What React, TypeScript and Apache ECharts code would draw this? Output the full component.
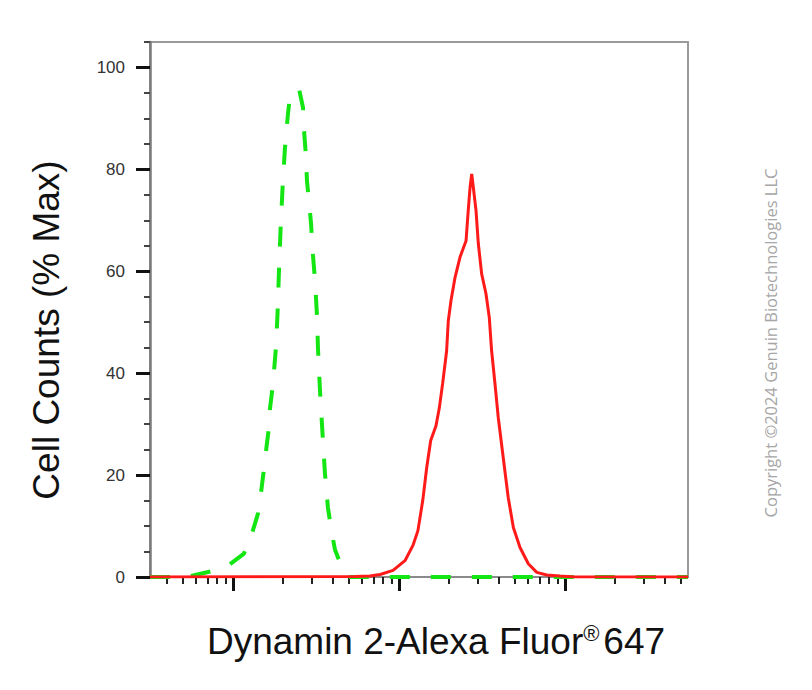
import React, { useEffect, useRef } from "react";
import * as echarts from "echarts";

// x values are log10 of fluorescence intensity; y values are % of max
const isotypePoints: [number, number][] = [
  [1.5, 0], [1.711, 0], [1.759, 0.3], [1.867, 1.1], [1.982, 2.5], [2.066, 4.6],
  [2.114, 8.5], [2.151, 12.5], [2.169, 16.6], [2.184, 20.5], [2.199, 24.8],
  [2.214, 28.7], [2.223, 33.1], [2.238, 37.1], [2.249, 41.2], [2.259, 45.1],
  [2.268, 51.5], [2.277, 60.1], [2.286, 67.8], [2.298, 76.0], [2.313, 84.2],
  [2.33, 90.5], [2.343, 94.4], [2.37, 94.4], [2.399, 95.6], [2.422, 92.1],
  [2.428, 87.6], [2.437, 83.7], [2.446, 77.6], [2.458, 73.7], [2.47, 69.4],
  [2.482, 63.1], [2.494, 58.2], [2.506, 51.3], [2.512, 44.8], [2.524, 36.6],
  [2.539, 28.3], [2.554, 20.3], [2.572, 13.6], [2.59, 9.7], [2.614, 5.4],
  [2.651, 2.3], [2.693, 0], [4.741, 0],
];

const dynaminPoints: [number, number][] = [
  [1.5, 0], [2.735, 0.1], [2.825, 0.2], [2.886, 0.5], [2.964, 1.3], [3.036, 3.2],
  [3.084, 6.2], [3.114, 9.1], [3.143, 15.0], [3.167, 21.5], [3.191, 26.8],
  [3.223, 29.7], [3.243, 33.2], [3.263, 38.0], [3.287, 44.4], [3.297, 50.3],
  [3.313, 54.2], [3.337, 58.7], [3.367, 62.7], [3.38, 63.9], [3.404, 66.0],
  [3.417, 71.9], [3.428, 76.4], [3.438, 79.1], [3.448, 76.4], [3.464, 71.9],
  [3.478, 65.4], [3.498, 59.5], [3.524, 55.6], [3.544, 50.9], [3.558, 44.4],
  [3.578, 38.0], [3.598, 31.3], [3.628, 23.4], [3.658, 15.6], [3.689, 9.7],
  [3.729, 5.8], [3.779, 2.6], [3.83, 0.9], [3.89, 0.4], [3.97, 0.2], [4.06, 0],
  [4.741, 0],
];

const yMajorTicks = [0, 20, 40, 60, 80, 100];
const yMinorTicks = [5, 10, 15, 25, 30, 35, 45, 50, 55, 65, 70, 75, 85, 90, 95, 105];
const xMajorDecades = [2, 3, 4];
const xMinorMultipliers = [2, 3, 4, 5, 6, 7, 8, 9];

const yAxisTitle = "Cell Counts (% Max)";
const xAxisTitleMain = "Dynamin 2-Alexa Fluor";
const xAxisTitleTail = "647";
const copyrightText = "Copyright ©2024 Genuin Biotechnologies LLC";

const X_MIN = 1.5;
const X_MAX = 4.741;

export default function App() {
  const ref = useRef<HTMLDivElement>(null);

  useEffect(() => {
    if (!ref.current) return;
    const chart = echarts.init(ref.current, undefined, { renderer: "svg" });

    const minorX: number[] = [];
    [1, 2, 3, 4].forEach((d) => {
      xMinorMultipliers.forEach((k) => {
        const v = d + Math.log10(k);
        if (v > X_MIN && v < X_MAX) minorX.push(v);
      });
    });

    const font = "'Liberation Sans', Arial, Helvetica, sans-serif";

    chart.setOption({
      animation: false,
      backgroundColor: "#ffffff",
      grid: {
        left: 150,
        top: 42,
        width: 538,
        height: 535,
        show: true,
        borderColor: "#9a9a9a",
        borderWidth: 2,
        backgroundColor: "transparent",
      },
      xAxis: [
        {
          type: "value",
          min: X_MIN,
          max: X_MAX,
          position: "bottom",
          axisLine: { show: true, lineStyle: { color: "#8a8a8a", width: 2 } },
          axisTick: {
            show: true,
            customValues: xMajorDecades,
            length: 14,
            lineStyle: { color: "#111", width: 3 },
          },
          axisLabel: { show: false },
          splitLine: { show: false },
        },
        {
          type: "value",
          min: X_MIN,
          max: X_MAX,
          position: "bottom",
          axisLine: { show: false },
          axisTick: {
            show: true,
            customValues: minorX,
            length: 7,
            lineStyle: { color: "#222", width: 2 },
          },
          axisLabel: { show: false },
          splitLine: { show: false },
        },
      ],
      yAxis: [
        {
          type: "value",
          min: 0,
          max: 105,
          position: "left",
          axisLine: { show: true, lineStyle: { color: "#7a7a7a", width: 2.5 } },
          axisTick: {
            show: true,
            customValues: yMajorTicks,
            length: 14,
            lineStyle: { color: "#111", width: 3 },
          },
          axisLabel: {
            show: true,
            customValues: yMajorTicks,
            margin: 25,
            color: "#333",
            fontSize: 17,
            fontFamily: font,
          },
          splitLine: { show: false },
        },
        {
          type: "value",
          min: 0,
          max: 105,
          position: "left",
          axisLine: { show: false },
          axisTick: {
            show: true,
            customValues: yMinorTicks,
            length: 6,
            lineStyle: { color: "#444", width: 2 },
          },
          axisLabel: { show: false },
          splitLine: { show: false },
        },
      ],
      series: [
        {
          type: "line",
          name: "Isotype",
          xAxisIndex: 0,
          yAxisIndex: 0,
          data: isotypePoints,
          showSymbol: false,
          symbol: "none",
          lineStyle: { color: "#14e614", width: 4, type: [20, 21], cap: "butt" },
          z: 3,
        },
        {
          type: "line",
          name: "Dynamin 2",
          xAxisIndex: 0,
          yAxisIndex: 0,
          data: dynaminPoints,
          showSymbol: false,
          symbol: "none",
          lineStyle: { color: "#ff1a1a", width: 3 },
          z: 4,
        },
      ],
      graphic: [
        {
          type: "text",
          x: 46,
          y: 330,
          rotation: Math.PI / 2,
          style: {
            text: yAxisTitle,
            font: `37px ${font}`,
            fill: "#111",
            textAlign: "center",
            textVerticalAlign: "middle",
          },
        },
        {
          type: "text",
          x: 436,
          y: 641,
          style: {
            text: `{a|${xAxisTitleMain}}{r|®}{s| }{a|${xAxisTitleTail}}`,
            textAlign: "center",
            textVerticalAlign: "middle",
            rich: {
              a: { fontSize: 37, fontFamily: font, fill: "#111", color: "#111" },
              s: { fontSize: 14, fontFamily: font },
              r: {
                fontSize: 22,
                fontFamily: font,
                fill: "#111",
                color: "#111",
                verticalAlign: "top",
              },
            },
          },
        },
        {
          type: "text",
          x: 770,
          y: 343,
          rotation: Math.PI / 2,
          style: {
            text: copyrightText,
            font: `16.5px 'Open Sans', 'Noto Sans', sans-serif`,
            fill: "#a6a6a6",
            textAlign: "center",
            textVerticalAlign: "middle",
          },
        },
      ],
    });

    return () => chart.dispose();
  }, []);

  return (
    <div
      ref={ref}
      style={{ position: "absolute", left: 0, top: 0, width: 812, height: 690 }}
    />
  );
}
